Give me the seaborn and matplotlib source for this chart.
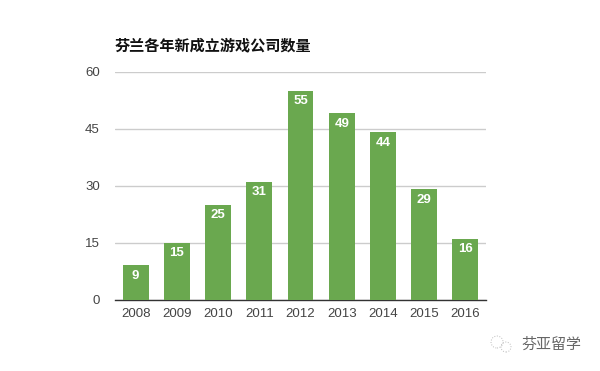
import matplotlib
matplotlib.use('Agg')
import matplotlib.pyplot as plt
from matplotlib.transforms import IdentityTransform
import pandas as pd
import seaborn as sns

years = ['2008', '2009', '2010', '2011', '2012', '2013', '2014', '2015', '2016']
counts = [9, 15, 25, 31, 55, 49, 44, 29, 16]
y_ticks = [0, 15, 30, 45, 60]
title = '芬兰各年新成立游戏公司数量'
watermark = '芬亚留学'

sns.set_theme(style='white')
plt.rcParams['font.family'] = ['Liberation Sans', 'Noto Sans CJK SC', 'DejaVu Sans']

W, H = 600, 371
fig = plt.figure(figsize=(W / 100, H / 100), dpi=100)
ax = fig.add_axes([115 / W, 1 - 299.6 / H, 371 / W, 228 / H])

df = pd.DataFrame({'year': years, 'count': counts})
sns.barplot(data=df, x='year', y='count', color='#6aa84f', saturation=1, width=0.63,
            linewidth=0, ax=ax, zorder=3)

ax.set_ylim(0, 60)
ax.set_yticks(y_ticks)
ax.set_xlabel('')
ax.set_ylabel('')
ax.grid(axis='y', color='#cccccc', linewidth=1, zorder=0)
ax.set_axisbelow(True)
sns.despine(ax=ax, left=True, top=True, right=True)
ax.spines['bottom'].set_color('#333333')
ax.spines['bottom'].set_linewidth(1)
ax.tick_params(axis='x', length=0, pad=6, labelsize=9.5, labelcolor='#444444')
ax.tick_params(axis='y', length=0, pad=11, labelsize=9.5, labelcolor='#444444')

for bar, val in zip(ax.patches, counts):
    ax.annotate(str(val), (bar.get_x() + bar.get_width() / 2, val), xytext=(0, -3),
                textcoords='offset points', ha='center', va='top',
                color='white', fontsize=9.5, fontweight='bold', zorder=4)

fig.text(115 / W, 1 - 45 / H, title, fontsize=10.9, fontweight='bold', color='#111111',
         ha='left', va='center', family=['Noto Sans CJK SC', 'DejaVu Sans'])

# watermark, bottom right
fig.text(521 / W, 1 - 345 / H, watermark, fontsize=10.8, color='#666666',
         ha='left', va='center', family=['Noto Sans CJK SC', 'DejaVu Sans'])
for cx, cy, r in [(497, 342, 6), (506, 347, 5)]:
    fig.add_artist(plt.Circle((cx, H - cy), r, transform=IdentityTransform(),
                              fill=False, ec='#bbbbbb', lw=0.7, ls=':'))

fig.savefig('out.png', dpi=100, facecolor='white')
